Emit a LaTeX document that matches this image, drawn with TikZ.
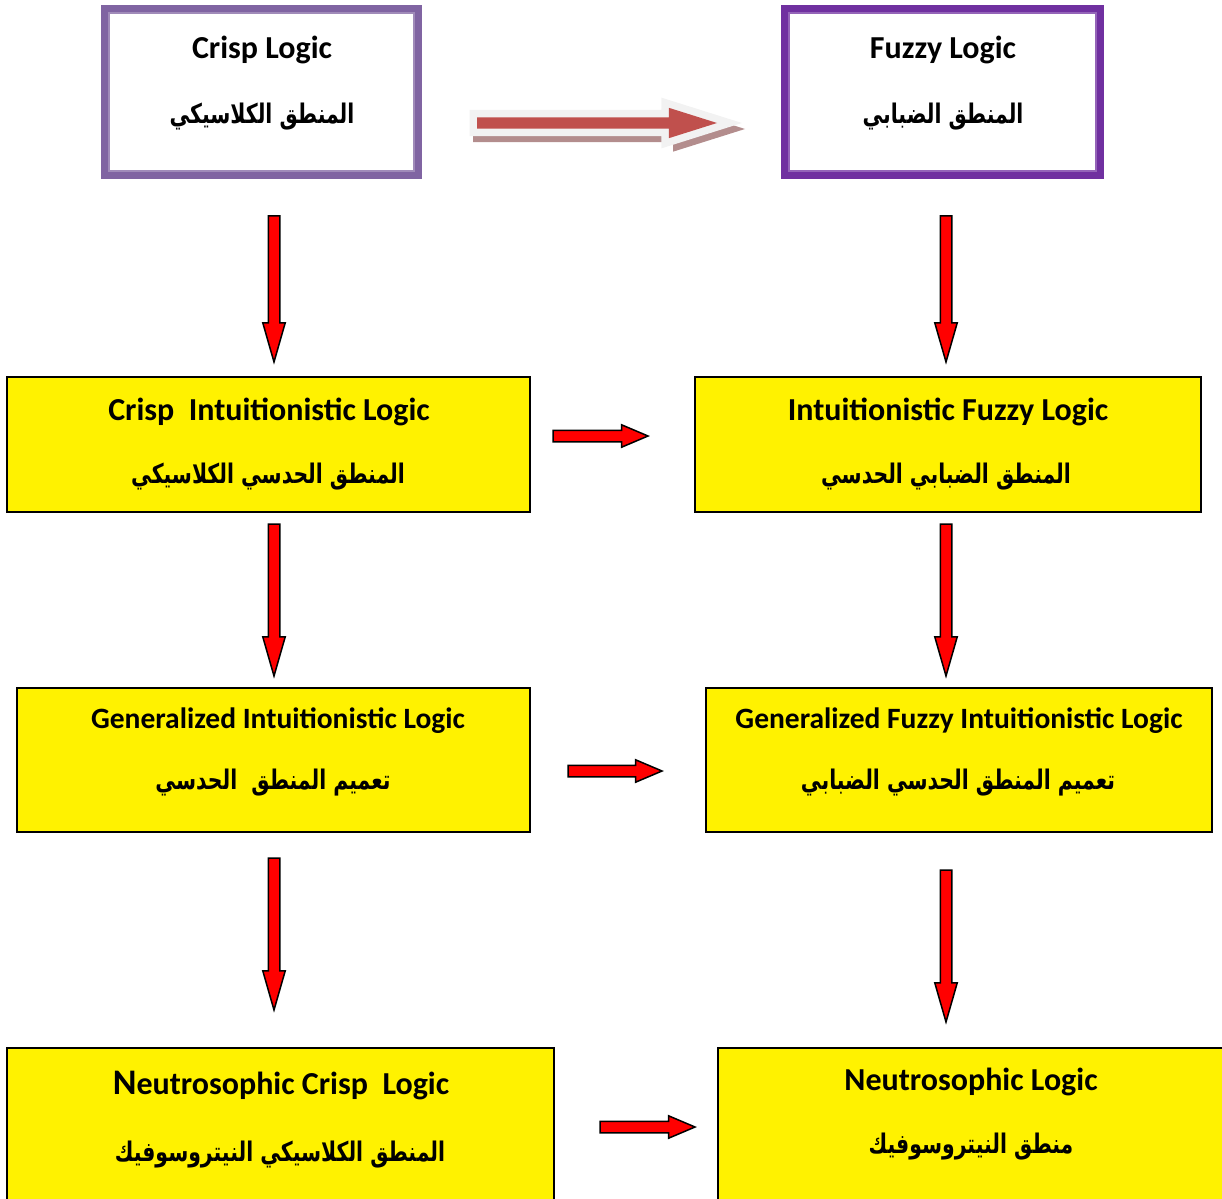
\documentclass[tikz,border=0pt]{standalone}
\usepackage{fontspec}
\setmainfont{Carlito}
\newfontfamily\arabicfont[Script=Arabic,FakeStretch=0.755]{DejaVu Sans}
\TeXXeTstate=1
\usepackage{tikz}
\usetikzlibrary{shapes.arrows}
\definecolor{lilac}{HTML}{8064A2}
\definecolor{deeppurple}{HTML}{7030A0}
\definecolor{brick}{HTML}{C0504D}
\definecolor{rosy}{HTML}{B38D8D}
\definecolor{haze}{HTML}{F2F2F2}

\begin{document}
\begin{tikzpicture}[
  x=1pt,y=-1pt,
  topbox/.style={rectangle,fill=white,line width=7pt,inner sep=0pt,minimum width=314pt,minimum height=167pt},
  frame/.style={line width=2pt},
  logic/.style={rectangle,draw=black,fill=yellow,line width=1.5pt,inner sep=0pt},
  en/.style={font=\fontsize{32}{36}\selectfont\bfseries,inner sep=0pt},
  ensmall/.style={font=\fontsize{29.5}{34}\selectfont\bfseries,inner sep=0pt},
  ar/.style={font=\arabicfont\fontsize{27}{32}\selectfont\bfseries,inner sep=0pt},
  redarr/.style={single arrow,draw=black,fill=red,line width=1.5pt,inner sep=0pt,inner ysep=5pt,
    outer sep=0pt,minimum width=0pt,single arrow head extend=5.5pt,anchor=tail},
  downarr/.style={redarr,rotate=-90,single arrow tip angle=32},
  rightarr/.style={redarr,single arrow tip angle=46},
  bigarr/.style={single arrow,inner sep=0pt,inner ysep=5.5pt,outer sep=0pt,minimum width=0pt,anchor=tail,
    single arrow head extend=9.5pt,single arrow tip angle=35,minimum height=240pt},
  bigshadow/.style={bigarr,fill=rosy,inner ysep=13pt,minimum height=272pt}
]
\useasboundingbox (0,0) rectangle (1222,1198);
\clip (0,0) rectangle (1222,1198);

\node[topbox,draw=lilac] (crisp) at (261,92) {};
\node[topbox,draw=deeppurple,minimum width=316pt] (fuzzy) at (942.5,92) {};
\draw[frame,draw=lilac!75] ([xshift=8pt,yshift=-8pt]crisp.north west) rectangle ([xshift=-8pt,yshift=8pt]crisp.south east);
\draw[frame,draw=deeppurple!75] ([xshift=8pt,yshift=-8pt]fuzzy.north west) rectangle ([xshift=-8pt,yshift=8pt]fuzzy.south east);
\node[en] (crispen) at (262,50) {Crisp Logic};
\node[ar] (crispar) at (262,117) {\beginR المنطق الكلاسيكي\endR};
\node[en] (fuzzyen) at (943,50) {Fuzzy Logic};
\node[ar] (fuzzyar) at (943,117) {\beginR المنطق الضبابي\endR};

\node[bigshadow] (bigsh) at (473,129) {};
\node[bigarr,fill=brick,preaction={draw=haze,line width=15pt}] (big) at (477,123) {};

\node[logic,minimum width=523pt,minimum height=135pt] (cint) at (268.5,444.5) {};
\node[logic,minimum width=506pt,minimum height=135pt] (fint) at (948,444.5) {};
\node[logic,minimum width=513pt,minimum height=144pt] (gint) at (273.5,760) {};
\node[logic,minimum width=506pt,minimum height=144pt] (gfint) at (959,760) {};
\node[logic,minimum width=547pt,minimum height=167pt] (ncrisp) at (280.5,1131.5) {};
\node[logic,minimum width=522pt,minimum height=167pt] (neutro) at (979,1131.5) {};

\node[en] (cinten) at (269,412) {Crisp\ \ Intuitionistic Logic};
\node[ar] (cintar) at (268,477) {\beginR المنطق الحدسي الكلاسيكي\endR};
\node[en] (finten) at (948,412) {Intuitionistic Fuzzy Logic};
\node[ar] (fintar) at (946,477) {\beginR المنطق الضبابي الحدسي\endR};
\node[ensmall] (ginten) at (278,721) {Generalized Intuitionistic Logic};
\node[ar] (gintar) at (273,783) {\beginR تعميم المنطق\ \ الحدسي\endR};
\node[ensmall] (gfinten) at (959,721) {Generalized Fuzzy Intuitionistic Logic};
\node[ar] (gfintar) at (958,783) {\beginR تعميم المنطق الحدسي الضبابي\endR};
\node[en] (ncrispen) at (281,1086) {{\fontsize{36}{36}\selectfont N}eutrosophic Crisp\ \ Logic};
\node[ar] (ncrispar) at (280,1155) {\beginR المنطق الكلاسيكي النيتروسوفيك\endR};
\node[en] (neutroen) at (971,1082) {Neutrosophic Logic};
\node[ar] (neutroar) at (971,1147) {\beginR منطق النيتروسوفيك\endR};

\node[downarr,minimum height=146pt] (d1) at (274,216) {};
\node[downarr,minimum height=152pt] (d2) at (274,524) {};
\node[downarr,minimum height=152pt] (d3) at (274,858) {};
\node[downarr,minimum height=146pt] (d4) at (946,216) {};
\node[downarr,minimum height=152pt] (d5) at (946,524) {};
\node[downarr,minimum height=152pt] (d6) at (946,870) {};
\node[rightarr,minimum height=95pt] (r1) at (553,436) {};
\node[rightarr,minimum height=94pt] (r2) at (568,771) {};
\node[rightarr,minimum height=95pt] (r3) at (600,1127) {};
\end{tikzpicture}
\end{document}
